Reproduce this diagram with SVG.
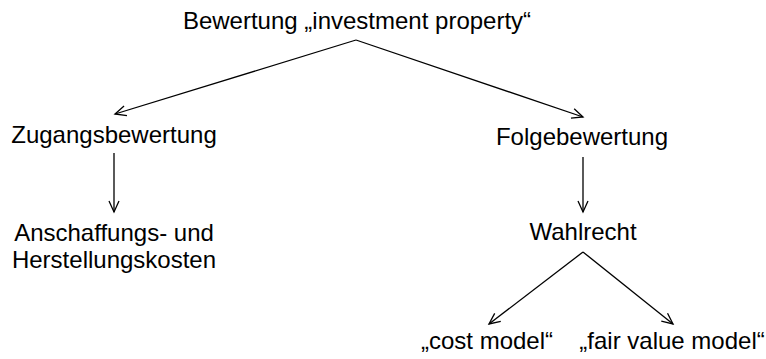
<svg xmlns="http://www.w3.org/2000/svg" width="766" height="359" viewBox="0 0 766 359">
<defs>
<marker id="arr" markerWidth="14" markerHeight="12" refX="12" refY="6" orient="auto" markerUnits="userSpaceOnUse">
<path d="M1,1 L12,6 L1,11" fill="none" stroke="#000" stroke-width="1.3"/>
</marker>
<style>
text{font-family:"Liberation Sans",Arial,sans-serif;font-size:24px;fill:#000;text-anchor:middle}
.c{stroke:#000;stroke-width:1.3;fill:none;marker-end:url(#arr)}
</style>
</defs>
<rect width="766" height="359" fill="#fff"/>
<g id="connectors">
<line class="c" x1="356" y1="40" x2="115" y2="114"/>
<line class="c" x1="356" y1="40" x2="583" y2="117"/>
<line class="c" x1="114" y1="153" x2="114" y2="212"/>
<line class="c" x1="583" y1="157" x2="583" y2="212"/>
<line class="c" x1="583" y1="252" x2="489" y2="324"/>
<line class="c" x1="583" y1="252" x2="673" y2="324"/>
</g>
<g id="root"><text x="357" y="29">Bewertung „investment property“</text></g>
<g id="zugang"><text x="114" y="143">Zugangsbewertung</text></g>
<g id="folge"><text x="582" y="145">Folgebewertung</text></g>
<g id="ahk"><text x="114" y="241">Anschaffungs- und</text><text x="114" y="268">Herstellungskosten</text></g>
<g id="wahlrecht"><text x="583" y="240">Wahlrecht</text></g>
<g id="cost"><text x="487" y="349">„cost model“</text></g>
<g id="fair"><text x="672" y="349">„fair value model“</text></g>
</svg>
